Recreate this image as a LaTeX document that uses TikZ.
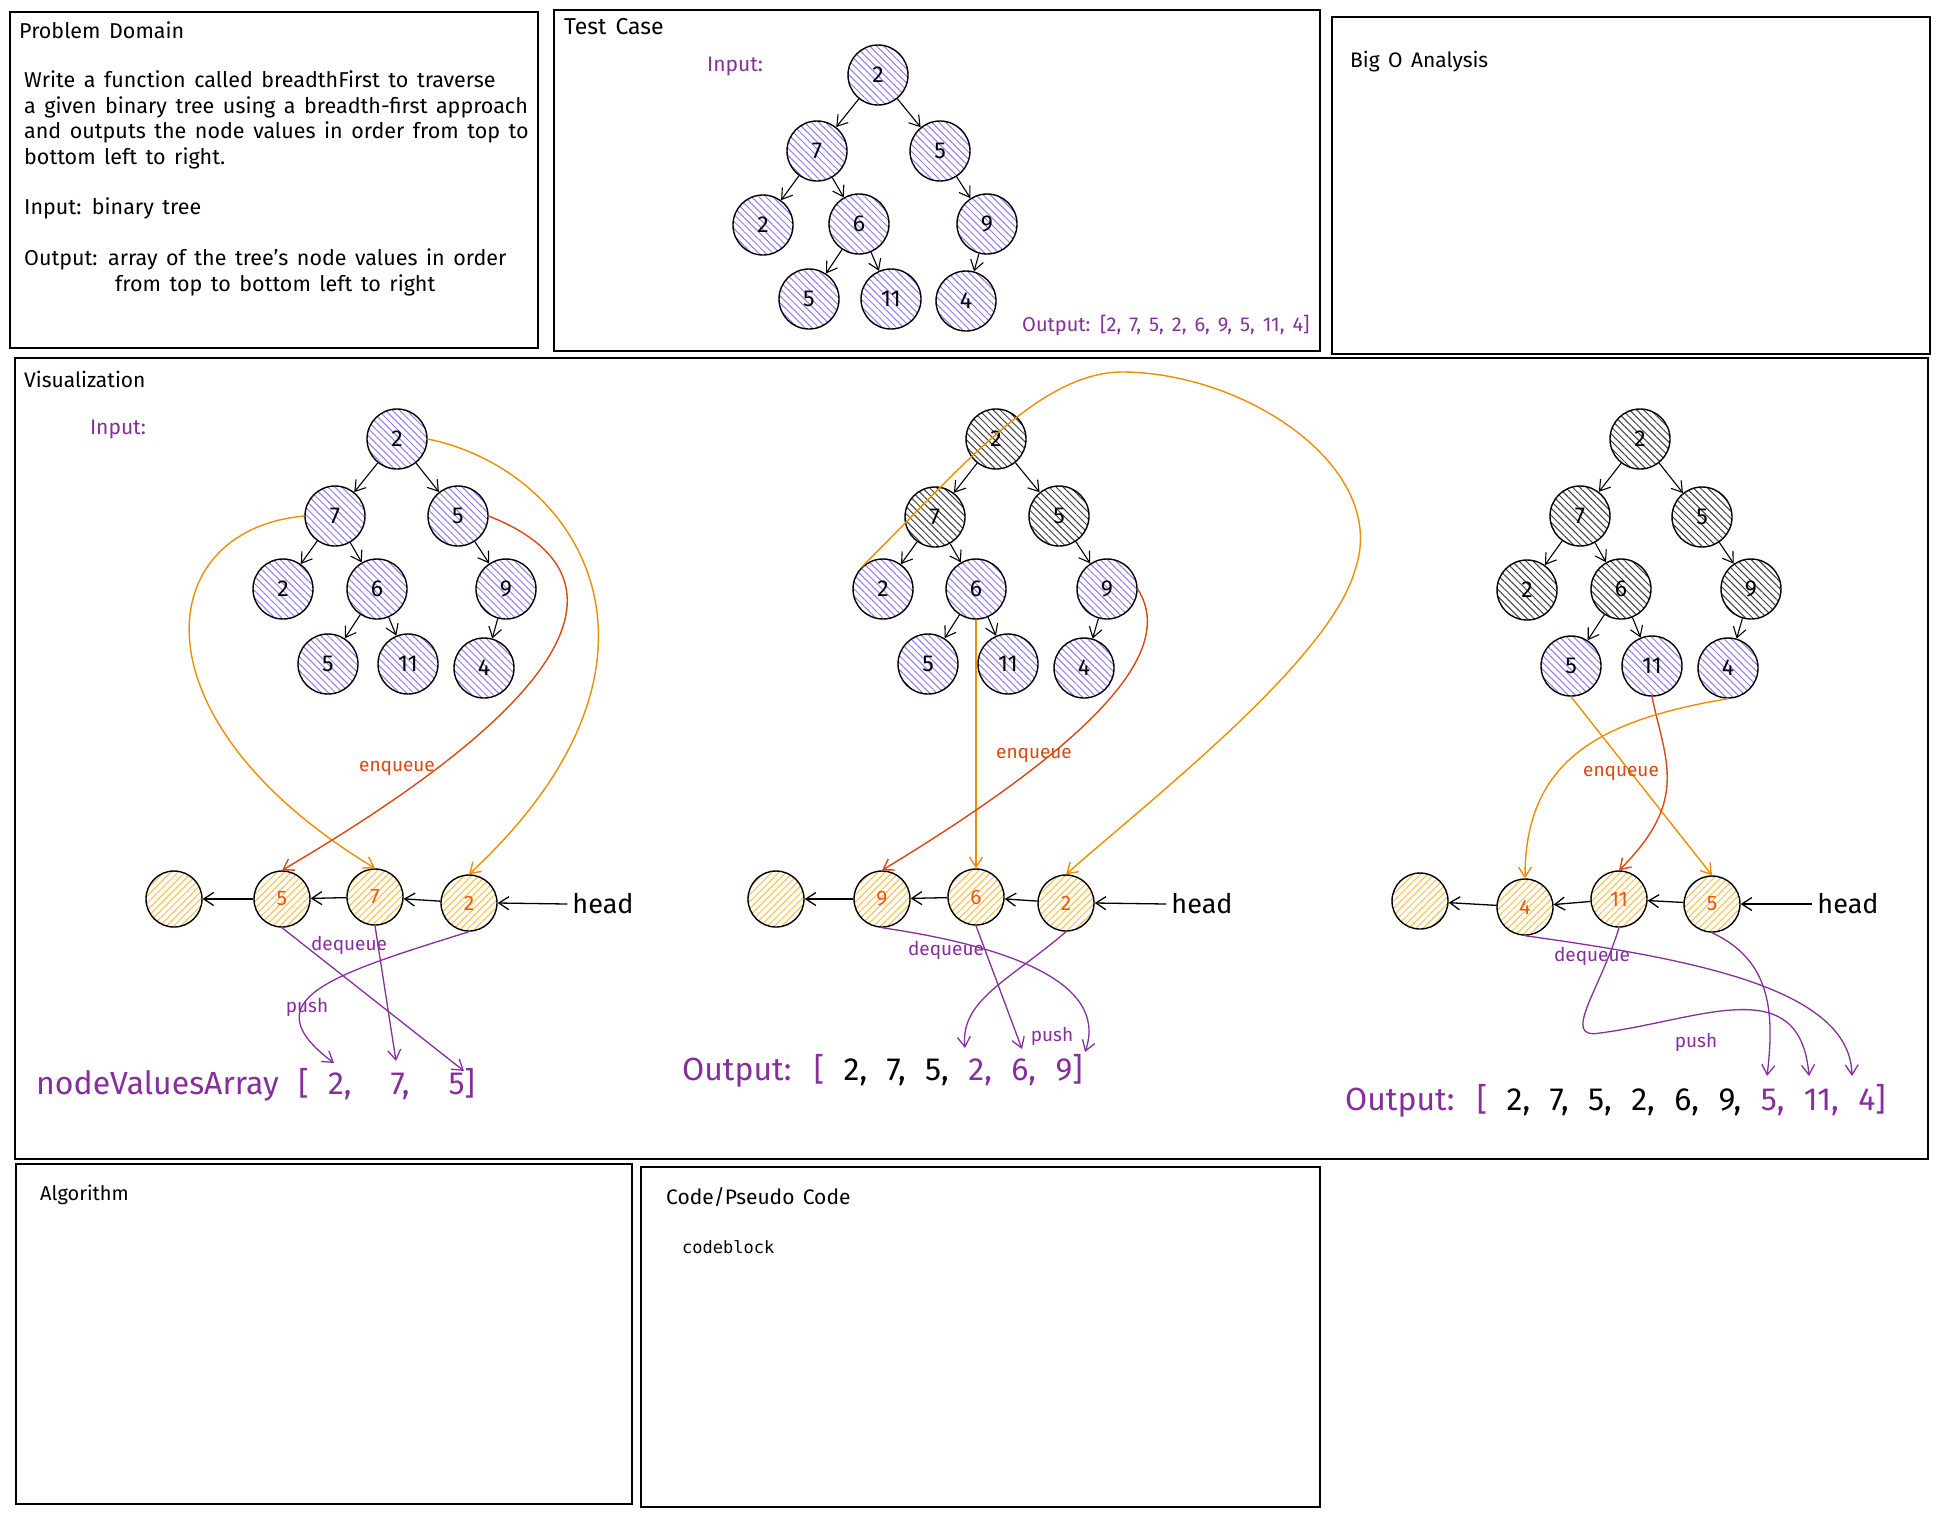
\documentclass[tikz,border=0pt]{standalone}
\usepackage{fontspec}
\setmainfont[WordSpace=1.5]{Fira Sans}
\newfontfamily\bigfont[WordSpace=2.3]{Fira Sans}
\newfontfamily\codefont{DejaVu Sans Mono}
\usetikzlibrary{arrows.meta,patterns.meta}

\begin{document}
\begin{tikzpicture}[x=1pt, y=-1pt, >={Straight Barb[length=10pt,width=13pt]},
    panel/.style={draw, line width=1.8pt},
    title/.style={anchor=west, inner sep=0pt, font=\fontsize{21}{25}\selectfont},
    tnode/.style={circle, draw, line width=1.4pt, minimum size=60pt, inner sep=0pt, pattern={Lines[angle=-45,distance=5pt,line width=1pt]}, pattern color=hatchviolet, font=\fontsize{23}{25}\selectfont},
    dnode/.style={tnode, pattern color=black!75},
    qnode/.style={circle, draw, line width=1.4pt, minimum size=56pt, inner sep=0pt, pattern={Lines[angle=45,distance=5pt,line width=1pt]}, pattern color=hatchyellow, text=qred, font=\fontsize{21}{24}\selectfont},
    headlbl/.style={inner sep=5pt, font=\fontsize{27}{30}\selectfont},
    tedge/.style={->, line width=1.1pt},
    qedge/.style={->, line width=1.3pt},
    enq/.style={->, draw=arroworange, line width=1.4pt},
    enqred/.style={->, draw=arrowred, line width=1.4pt},
    deq/.style={->, draw=vpurple, line width=1.3pt},
    lbl/.style={inner sep=1pt, font=\fontsize{19}{22}\selectfont},
    bigout/.style={anchor=west, inner sep=0pt, font=\bigfont\fontsize{32}{36}\selectfont}]
    % Colors
    \definecolor{hatchviolet}{RGB}{150,120,240}
    \definecolor{hatchyellow}{RGB}{250,190,70}
    \definecolor{qred}{RGB}{232,89,12}
    \definecolor{arroworange}{RGB}{240,140,0}
    \definecolor{arrowred}{RGB}{217,72,15}
    \definecolor{vpurple}{RGB}{134,46,156}

    \useasboundingbox (0,0) rectangle (1940,1524);

    % Panels
    \draw[panel] (10,12) rectangle (538,348);
    \draw[panel] (554,10) rectangle (1320,351);
    \draw[panel] (1332,17) rectangle (1930,354);
    \draw[panel] (15,358) rectangle (1928,1159);
    \draw[panel] (16,1164) rectangle (632,1504);
    \draw[panel] (641,1167) rectangle (1320,1507);

    % Problem domain
    \node[title, font=\fontsize{21.5}{25}\selectfont] (pdTitle) at (19,30) {Problem Domain};
    \node[anchor=north west, inner sep=0pt, align=left, font=\fontsize{21.5}{25.4}\selectfont] (pdText) at (24,71) {Write a function called breadthFirst to traverse\\
        a given binary tree using a breadth-first approach\\
        and outputs the node values in order from top to\\
        bottom left to right.\\[25.4pt]
        Input: binary tree\\[25.4pt]
        Output: array of the tree's node values in order\\
        \hspace*{91pt}from top to bottom left to right};

    % Test case
    \node[title, font=\fontsize{23}{26}\selectfont] (tcTitle) at (564,27) {Test Case};
    \node[lbl, font=\fontsize{21}{24}\selectfont, text=vpurple] (tcIn) at (735,66) {Input:};
    \node[tnode] (t1) at (878,75) {2};
    \node[tnode] (t2) at (817,151) {7};
    \node[tnode] (t3) at (940,151) {5};
    \node[tnode] (t4) at (763,225) {2};
    \node[tnode] (t5) at (859,224) {6};
    \node[tnode] (t6) at (987,224) {9};
    \node[tnode] (t7) at (809,299) {5};
    \node[tnode] (t8) at (891,299) {11};
    \node[tnode] (t9) at (966,301) {4};
    \draw[tedge] (t1) -- (t2);
    \draw[tedge] (t1) -- (t3);
    \draw[tedge] (t2) -- (t4);
    \draw[tedge] (t2) -- (t5);
    \draw[tedge] (t3) -- (t6);
    \draw[tedge] (t5) -- (t7);
    \draw[tedge] (t5) -- (t8);
    \draw[tedge] (t6) -- (t9);
    \node[lbl, anchor=west, font=\fontsize{20}{22}\selectfont, text=vpurple] (tcOut) at (1021,325) {Output: [2, 7, 5, 2, 6, 9, 5, 11, 4]};

    % Big O
    \node[title] (boTitle) at (1350,62) {Big O Analysis};

    % Visualization
    \node[title] (vzTitle) at (24,379) {Visualization};
    \node[lbl, font=\fontsize{21}{24}\selectfont, text=vpurple] (vzIn) at (118,429) {Input:};

    % Step 1
    \node[tnode] (a1) at (397,439) {2};
    \node[tnode] (a2) at (335,516) {7};
    \node[tnode] (a3) at (458,516) {5};
    \node[tnode] (a4) at (283,589) {2};
    \node[tnode] (a5) at (377,589) {6};
    \node[tnode] (a6) at (506,589) {9};
    \node[tnode] (a7) at (328,664) {5};
    \node[tnode] (a8) at (408,664) {11};
    \node[tnode] (a9) at (484,668) {4};
    \draw[tedge] (a1) -- (a2);
    \draw[tedge] (a1) -- (a3);
    \draw[tedge] (a2) -- (a4);
    \draw[tedge] (a2) -- (a5);
    \draw[tedge] (a3) -- (a6);
    \draw[tedge] (a5) -- (a7);
    \draw[tedge] (a5) -- (a8);
    \draw[tedge] (a6) -- (a9);

    \node[qnode] (qa0) at (174,899) {};
    \node[qnode] (qa1) at (282,899) {5};
    \node[qnode] (qa2) at (375,897) {7};
    \node[qnode] (qa3) at (469,903) {2};
    \node[headlbl] (ha) at (603,904) {head};
    \draw[qedge] (ha.west) -- (qa3.east);
    \draw[qedge] (qa3) -- (qa2);
    \draw[qedge] (qa2) -- (qa1);
    \draw[qedge] (qa1) -- (qa0);

    \draw[enq] (a2.west) .. controls (150,530) and (130,720) .. (qa2.north);
    \draw[enqred] (a3.east) .. controls (600,560) and (640,660) .. (qa1.north);
    \draw[enq] (a1.east) .. controls (580,470) and (700,660) .. (qa3.north);
    \node[lbl, text=arrowred] (enqA) at (397,768) {enqueue};

    \draw[deq] (qa1.south) -- (464,1071);
    \draw[deq] (qa2.south) -- (396,1061);
    \draw[deq] (qa3.south) .. controls (330,975) and (250,1000) .. (334,1063);
    \node[lbl, text=vpurple] (deqA) at (349,945) {dequeue};
    \node[lbl, text=vpurple] (pushA) at (307,1007) {push};
    \node[bigout, text=vpurple] (outA) at (36,1085) {nodeValuesArray [ 2,\ \ 7,\ \ 5]};

    % Step 2
    \node[dnode] (b1) at (996,439) {2};
    \node[dnode] (b2) at (935,517) {7};
    \node[dnode] (b3) at (1059,516) {5};
    \node[tnode] (b4) at (883,589) {2};
    \node[tnode] (b5) at (976,589) {6};
    \node[tnode] (b6) at (1107,589) {9};
    \node[tnode] (b7) at (928,664) {5};
    \node[tnode] (b8) at (1008,664) {11};
    \node[tnode] (b9) at (1084,668) {4};
    \draw[tedge] (b1) -- (b2);
    \draw[tedge] (b1) -- (b3);
    \draw[tedge] (b2) -- (b4);
    \draw[tedge] (b2) -- (b5);
    \draw[tedge] (b3) -- (b6);
    \draw[tedge] (b5) -- (b7);
    \draw[tedge] (b5) -- (b8);
    \draw[tedge] (b6) -- (b9);

    \node[qnode] (qb0) at (776,899) {};
    \node[qnode] (qb1) at (882,899) {9};
    \node[qnode] (qb2) at (976,897) {6};
    \node[qnode] (qb3) at (1066,903) {2};
    \node[headlbl] (hb) at (1202,904) {head};
    \draw[qedge] (hb.west) -- (qb3.east);
    \draw[qedge] (qb3) -- (qb2);
    \draw[qedge] (qb2) -- (qb1);
    \draw[qedge] (qb1) -- (qb0);

    \draw[enq] (b4.north west) .. controls (960,470) and (1040,370) .. (1125,372)
        .. controls (1250,374) and (1390,470) .. (1355,570)
        .. controls (1330,660) and (1150,800) .. (qb3.north);
    \draw[enq] (b5.south) -- (qb2.north);
    \draw[enqred] (b6.east) .. controls (1170,640) and (1130,720) .. (qb1.north);
    \node[lbl, text=arrowred] (enqB) at (1034,755) {enqueue};

    \draw[deq] (qb1.south) .. controls (1000,945) and (1110,980) .. (1085,1052);
    \draw[deq] (qb2.south) -- (1022,1049);
    \draw[deq] (qb3.south) .. controls (1010,980) and (960,1000) .. (965,1048);
    \node[lbl, text=vpurple] (deqB) at (946,950) {dequeue};
    \node[lbl, text=vpurple] (pushB) at (1052,1036) {push};
    \node[bigout] (outB) at (682,1071) {\textcolor{vpurple}{Output: [} 2, 7, 5, \textcolor{vpurple}{2, 6, 9]}};

    % Step 3
    \node[dnode] (c1) at (1640,439) {2};
    \node[dnode] (c2) at (1580,516) {7};
    \node[dnode] (c3) at (1702,517) {5};
    \node[dnode] (c4) at (1527,590) {2};
    \node[dnode] (c5) at (1621,589) {6};
    \node[dnode] (c6) at (1751,589) {9};
    \node[tnode] (c7) at (1571,666) {5};
    \node[tnode] (c8) at (1652,666) {11};
    \node[tnode] (c9) at (1728,668) {4};
    \draw[tedge] (c1) -- (c2);
    \draw[tedge] (c1) -- (c3);
    \draw[tedge] (c2) -- (c4);
    \draw[tedge] (c2) -- (c5);
    \draw[tedge] (c3) -- (c6);
    \draw[tedge] (c5) -- (c7);
    \draw[tedge] (c5) -- (c8);
    \draw[tedge] (c6) -- (c9);

    \node[qnode] (qc0) at (1420,901) {};
    \node[qnode] (qc1) at (1525,907) {4};
    \node[qnode] (qc2) at (1619,899) {11};
    \node[qnode] (qc3) at (1712,904) {5};
    \node[headlbl] (hc) at (1848,904) {head};
    \draw[qedge] (hc.west) -- (qc3.east);
    \draw[qedge] (qc3) -- (qc2);
    \draw[qedge] (qc2) -- (qc1);
    \draw[qedge] (qc1) -- (qc0);

    \draw[enq] (c7.south) -- (qc3.north);
    \draw[enqred] (c8.south) .. controls (1665,760) and (1690,800) .. (qc2.north);
    \draw[enq] (c9.south) .. controls (1600,720) and (1525,760) .. (qc1.north);
    \node[lbl, text=arrowred] (enqC) at (1621,773) {enqueue};

    \draw[deq] (qc1.south) .. controls (1700,960) and (1850,990) .. (1852,1076);
    \draw[deq] (qc2.south) .. controls (1600,990) and (1560,1040) .. (1600,1033)
        .. controls (1700,1020) and (1800,970) .. (1809,1076);
    \draw[deq] (qc3.south) .. controls (1770,960) and (1775,1010) .. (1767,1076);
    \node[lbl, text=vpurple] (deqC) at (1592,956) {dequeue};
    \node[lbl, text=vpurple] (pushC) at (1696,1042) {push};
    \node[bigout] (outC) at (1345,1101) {\textcolor{vpurple}{Output: [} 2, 7, 5, 2, 6, 9, \textcolor{vpurple}{5, 11, 4]}};

    % Algorithm and code
    \node[title, font=\fontsize{20}{24}\selectfont] (alTitle) at (40,1195) {Algorithm};
    \node[title] (cdTitle) at (666,1197) {Code/Pseudo Code};
    \node[anchor=west, inner sep=0pt, font=\codefont\fontsize{17}{20}\selectfont] (cb) at (682,1247) {codeblock};
\end{tikzpicture}
\end{document}
